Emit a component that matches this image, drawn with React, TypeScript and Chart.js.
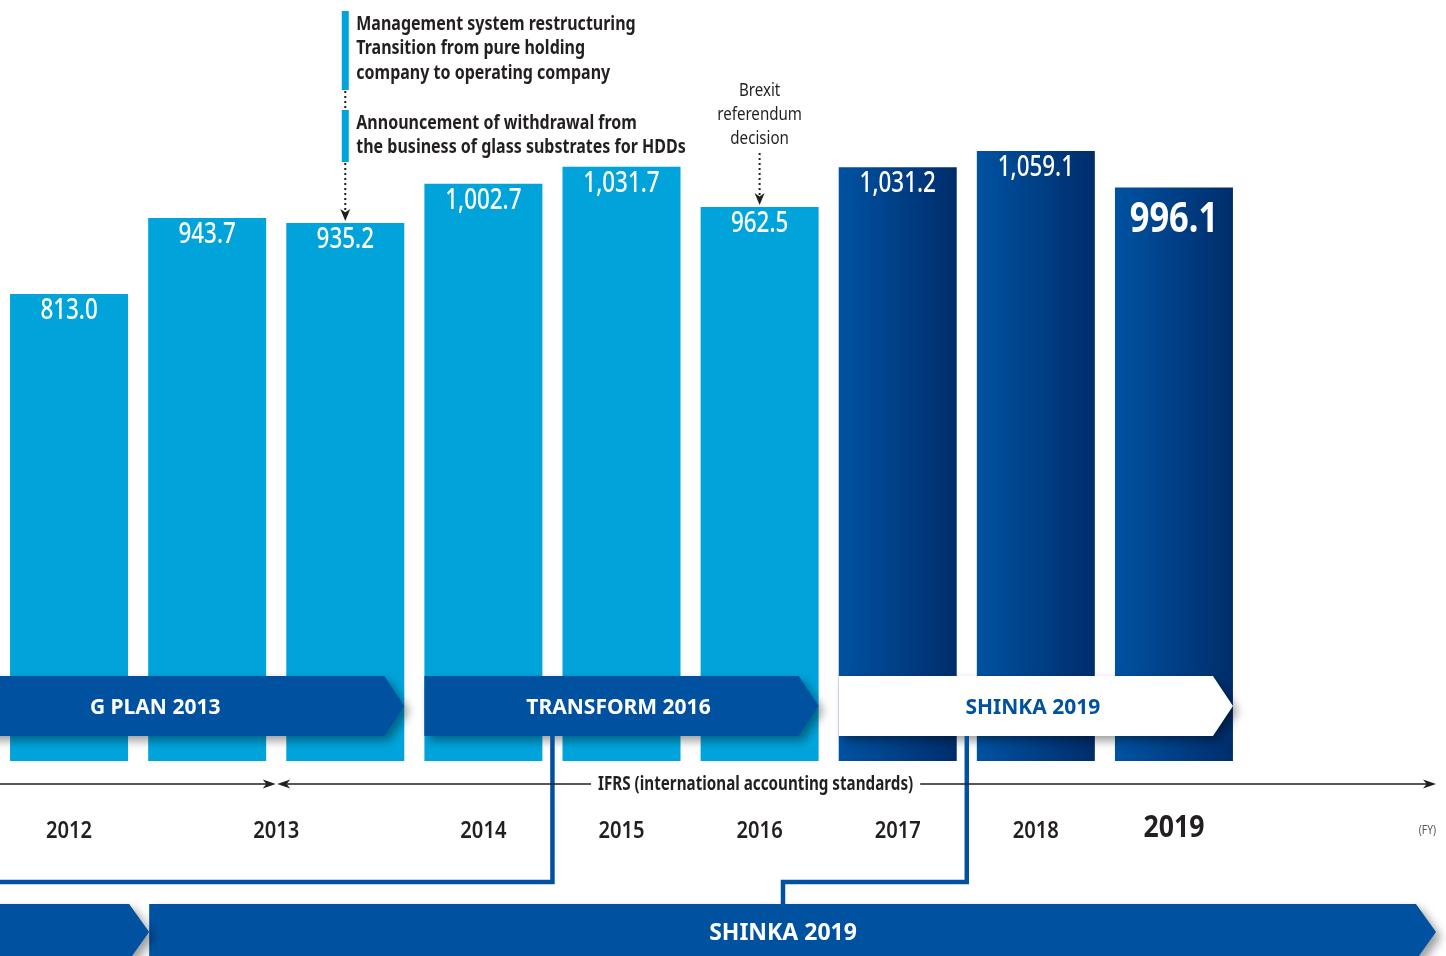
import React, { useEffect, useRef } from 'react';
import { Chart, registerables } from 'chart.js';

Chart.register(...registerables);

// ---------- DATA ----------
const barKeys = ['FY2012', 'FY2013 (J-GAAP)', 'FY2013 (IFRS)', 'FY2014', 'FY2015', 'FY2016', 'FY2017', 'FY2018', 'FY2019'];
const revenue = [813.0, 943.7, 935.2, 1002.7, 1031.7, 962.5, 1031.2, 1059.1, 996.1];
const valueLabels = ['813.0', '943.7', '935.2', '1,002.7', '1,031.7', '962.5', '1,031.2', '1,059.1', '996.1'];
const yearLabels = ['2012', '2013', '2014', '2015', '2016', '2017', '2018', '2019'];
const yearBars = [[0], [1, 2], [3], [4], [5], [6], [7], [8]];
const planNames = ['G PLAN 2013', 'TRANSFORM 2016', 'SHINKA 2019'];
const planRanges = [[0, 2], [3, 5], [6, 8]];
const ifrsLabel = 'IFRS (international accounting standards)';
const unitLabel = '(FY)';
const bottomPlan = 'SHINKA 2019';
const noteManagement = ['Management system restructuring', 'Transition from pure holding', 'company to operating company'];
const noteWithdrawal = ['Announcement of withdrawal from', 'the business of glass substrates for HDDs'];
const noteBrexit = ['Brexit', 'referendum', 'decision'];

// ---------- STYLE ----------
const CYAN = '#00A4DB';
const BLUE = '#0052A1';
const DARK_L = '#0052A2';
const DARK_R = '#002D6B';
const INK = '#231F20';
const BAR_PCT = 0.8544;
const HUM = "'Noto Sans', 'Open Sans', sans-serif";
const SQUEEZE = 0.82;

function sText(ctx: CanvasRenderingContext2D, text: string, x: number, y: number, squeeze = SQUEEZE) {
  const w = ctx.measureText(text).width;
  ctx.fillText(text, x, y, w * squeeze);
}

function arrowHead(ctx: CanvasRenderingContext2D, x: number, y: number, dir: 'r' | 'l' | 'd', len = 12, half = 4.5) {
  ctx.beginPath();
  if (dir === 'r') {
    ctx.moveTo(x, y); ctx.lineTo(x - len, y - half); ctx.lineTo(x - len * 0.72, y); ctx.lineTo(x - len, y + half);
  } else if (dir === 'l') {
    ctx.moveTo(x, y); ctx.lineTo(x + len, y - half); ctx.lineTo(x + len * 0.72, y); ctx.lineTo(x + len, y + half);
  } else {
    ctx.moveTo(x, y); ctx.lineTo(x - half, y - len); ctx.lineTo(x, y - len * 0.72); ctx.lineTo(x + half, y - len);
  }
  ctx.closePath();
  ctx.fill();
}

function bannerPath(ctx: CanvasRenderingContext2D, x0: number, tip: number, top: number, bot: number, slant: number) {
  const mid = (top + bot) / 2;
  ctx.beginPath();
  ctx.moveTo(x0, top);
  ctx.lineTo(tip - slant, top);
  ctx.lineTo(tip, mid);
  ctx.lineTo(tip - slant, bot);
  ctx.lineTo(x0, bot);
  ctx.closePath();
}

function withShadow(ctx: CanvasRenderingContext2D, fn: () => void) {
  ctx.save();
  ctx.shadowColor = 'rgba(0,0,0,0.38)';
  ctx.shadowBlur = 10;
  ctx.shadowOffsetX = 5;
  ctx.shadowOffsetY = 5;
  fn();
  ctx.restore();
}

function dotted(ctx: CanvasRenderingContext2D, x: number, y0: number, y1: number) {
  ctx.save();
  ctx.strokeStyle = INK;
  ctx.lineWidth = 2;
  ctx.setLineDash([2, 3]);
  ctx.beginPath();
  ctx.moveTo(x, y0);
  ctx.lineTo(x, y1);
  ctx.stroke();
  ctx.restore();
}

const overlayPlugin = {
  id: 'overlay',
  afterDatasetsDraw(chart: any) {
    const ctx: CanvasRenderingContext2D = chart.ctx;
    const meta = chart.getDatasetMeta(0);
    const bars = meta.data.map((el: any) => ({
      x: el.x, top: el.y, w: el.width, left: el.x - el.width / 2, right: el.x + el.width / 2, base: el.base,
    }));
    const B = chart.chartArea.bottom;
    const W = chart.width;

    ctx.save();
    ctx.textAlign = 'center';
    ctx.textBaseline = 'middle';

    // value labels
    bars.forEach((b: any, i: number) => {
      const last = i === bars.length - 1;
      ctx.fillStyle = '#FFFFFF';
      ctx.font = last ? `bold 42px ${HUM}` : `500 28px ${HUM}`;
      sText(ctx, valueLabels[i], b.x, b.top + (last ? 32 : 17), last ? 0.82 : 0.8);
    });

    // plan banners over bars
    const bTop = B - 85, bBot = B - 25;
    planRanges.forEach((r, k) => {
      const x0 = k === 0 ? -20 : bars[r[0]].left;
      const tip = bars[r[1]].right;
      const white = k === planRanges.length - 1;
      withShadow(ctx, () => {
        bannerPath(ctx, x0, tip, bTop, bBot, 20);
        ctx.fillStyle = white ? '#FFFFFF' : BLUE;
        ctx.fill();
      });
      ctx.font = `bold 21px ${HUM}`;
      ctx.fillStyle = white ? BLUE : '#FFFFFF';
      const tx = k === 0 ? bars[1].x - 52 : (bars[r[0]].left + tip) / 2 - 3;
      sText(ctx, planNames[k], tx, (bTop + bBot) / 2 + 2, 1);
    });

    // connectors
    const cY = B + 121;
    const bottomTop = B + 143, bottomBot = B + 199;
    const gapA = (bars[3].right + bars[4].left) / 2;
    const gapB = (bars[6].right + bars[7].left) / 2;
    const bottomTextX = 783;
    ctx.strokeStyle = BLUE;
    ctx.lineWidth = 4.5;
    ctx.lineJoin = 'miter';
    ctx.beginPath();
    ctx.moveTo(gapA, bBot);
    ctx.lineTo(gapA, cY);
    ctx.lineTo(-5, cY);
    ctx.stroke();
    ctx.beginPath();
    ctx.moveTo(gapB, bBot);
    ctx.lineTo(gapB, cY);
    ctx.lineTo(bottomTextX, cY);
    ctx.lineTo(bottomTextX, bottomTop + 2);
    ctx.stroke();

    // axis with arrows
    const aY = B + 23;
    const split = (bars[1].right + bars[2].left) / 2;
    const axisEnd = W - 10;
    ctx.strokeStyle = INK;
    ctx.fillStyle = INK;
    ctx.lineWidth = 1.3;
    ctx.beginPath();
    ctx.moveTo(0, aY); ctx.lineTo(split - 4, aY);
    ctx.moveTo(split + 4, aY); ctx.lineTo(axisEnd - 4, aY);
    ctx.stroke();
    arrowHead(ctx, split - 0.5, aY, 'r', 13, 4.5);
    arrowHead(ctx, split + 1, aY, 'l', 13, 4.5);
    arrowHead(ctx, axisEnd, aY, 'r', 13, 4.5);
    ctx.font = `bold 19px ${HUM}`;
    const lx = bars[5].x - 4;
    const lw = ctx.measureText(ifrsLabel).width * 0.8;
    ctx.fillStyle = '#FFFFFF';
    ctx.fillRect(lx - lw / 2 - 7, aY - 12, lw + 14, 24);
    ctx.fillStyle = INK;
    sText(ctx, ifrsLabel, lx, aY + 1, 0.8);

    // year labels
    yearLabels.forEach((lab, k) => {
      const idx = yearBars[k];
      const x = idx.reduce((s, i) => s + bars[i].x, 0) / idx.length;
      const last = k === yearLabels.length - 1;
      ctx.font = last ? `bold 31px ${HUM}` : `600 24px ${HUM}`;
      ctx.fillStyle = INK;
      sText(ctx, lab, x, last ? B + 67 : B + 70, last ? 0.86 : 0.84);
    });
    ctx.font = `12px ${HUM}`;
    ctx.fillStyle = '#555555';
    ctx.textAlign = 'right';
    sText(ctx, unitLabel, axisEnd, B + 70, 0.85);
    ctx.textAlign = 'center';

    // bottom banners
    const firstTip = bars[1].left + 1;
    withShadow(ctx, () => {
      bannerPath(ctx, firstTip, W - 10, bottomTop, bottomBot, 20);
      ctx.fillStyle = BLUE;
      ctx.fill();
    });
    withShadow(ctx, () => {
      bannerPath(ctx, -20, firstTip, bottomTop, bottomBot, 20);
      ctx.fillStyle = BLUE;
      ctx.fill();
    });
    ctx.font = `bold 23px ${HUM}`;
    ctx.fillStyle = '#FFFFFF';
    sText(ctx, bottomPlan, bottomTextX, bottomTop + 29, 1);

    // annotation: management & withdrawal (anchored on FY2013 IFRS bar)
    const ax = bars[2].x;
    ctx.fillStyle = CYAN;
    ctx.fillRect(ax - 3.5, 11, 7, 79);
    ctx.fillRect(ax - 3.5, 110, 7, 52);
    dotted(ctx, ax, 91, 110);
    dotted(ctx, ax, 163, bars[2].top - 12);
    ctx.fillStyle = INK;
    arrowHead(ctx, ax, bars[2].top - 2, 'd', 12, 5);
    ctx.textAlign = 'left';
    ctx.font = `bold 20px ${HUM}`;
    noteManagement.forEach((t, i) => sText(ctx, t, ax + 11, 24 + i * 24.5, 0.8));
    noteWithdrawal.forEach((t, i) => sText(ctx, t, ax + 11, 123 + i * 24, 0.8));

    // Brexit annotation on FY2016 bar
    const bx = bars[5].x;
    ctx.textAlign = 'center';
    ctx.font = `18px ${HUM}`;
    noteBrexit.forEach((t, i) => sText(ctx, t, bx, 91 + i * 24, 0.84));
    dotted(ctx, bx, 153, bars[5].top - 12);
    ctx.fillStyle = INK;
    arrowHead(ctx, bx, bars[5].top - 2, 'd', 12, 5);

    ctx.restore();
  },
};

export default function App() {
  const ref = useRef<HTMLCanvasElement | null>(null);
  useEffect(() => {
    if (!ref.current) return;
    const chart = new Chart(ref.current, {
      type: 'bar',
      data: {
        labels: barKeys,
        datasets: [
          {
            label: 'Revenue',
            data: revenue,
            borderWidth: 0,
            barPercentage: BAR_PCT,
            categoryPercentage: 1,
            backgroundColor: (c: any) => {
              const i = c.dataIndex;
              if (i < planRanges[2][0]) return CYAN;
              const ch = c.chart;
              const xs = ch.scales && ch.scales.x;
              if (!xs || !ch.chartArea) return DARK_L;
              const cx = xs.getPixelForValue(i);
              const half = (xs.width / barKeys.length) * BAR_PCT / 2;
              const g = ch.ctx.createLinearGradient(cx - half, 0, cx + half, 0);
              g.addColorStop(0, DARK_L);
              g.addColorStop(1, DARK_R);
              return g;
            },
          },
        ],
      },
      options: {
        responsive: false,
        animation: false,
        events: [],
        layout: { padding: { left: 0, right: 203, top: 11, bottom: 195 } },
        plugins: { legend: { display: false }, tooltip: { enabled: false } },
        scales: {
          x: { display: false },
          y: { display: false, min: 9, max: 1300 },
        },
      },
      plugins: [overlayPlugin],
    });
    return () => chart.destroy();
  }, []);
  return (
    <div style={{ position: 'absolute', left: 0, top: 0, width: 1446, height: 956, background: '#fff' }}>
      <canvas ref={ref} width={1446} height={956} style={{ display: 'block' }} />
    </div>
  );
}
